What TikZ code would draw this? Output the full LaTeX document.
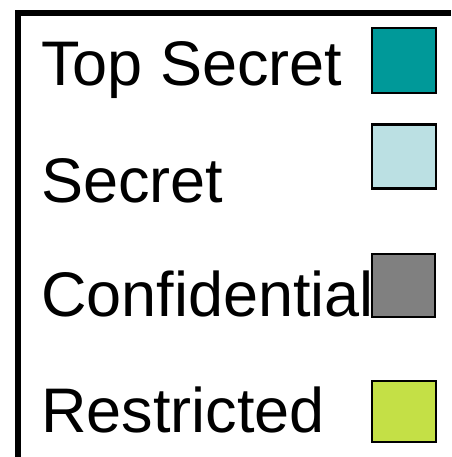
\documentclass[tikz,border=0pt]{standalone}
\usepackage{fontspec}
\setmainfont{Liberation Sans}
\definecolor{tsc}{RGB}{0,153,153}
\definecolor{sc}{RGB}{187,224,227}
\definecolor{cc}{RGB}{128,128,128}
\definecolor{rc}{RGB}{196,224,70}
\begin{document}
\begin{tikzpicture}[x=1pt,y=1pt,
  lbl/.style={anchor=base west,inner sep=0pt,font=\fontsize{63}{63}\selectfont},
  swatch/.style={draw=black,line width=2.5pt}]
\useasboundingbox (0,0) rectangle (451,457);
\draw[line width=6pt] (18,0) -- (18,444) -- (451,444);
\node[lbl] (ts) at (41,371) {Top Secret};
\node[lbl] (s) at (41,254) {Secret};
\node[lbl] (c) at (41,140) {Confidential};
\node[lbl] (r) at (41,24) {Restricted};
\path[swatch,fill=tsc] (372,429) rectangle (436,364);
\path[swatch,fill=sc] (372,332.5) rectangle (436,268.5);
\path[swatch,fill=cc] (372,203) rectangle (435,140);
\path[swatch,fill=rc] (372,76) rectangle (436,15);
\end{tikzpicture}
\end{document}
